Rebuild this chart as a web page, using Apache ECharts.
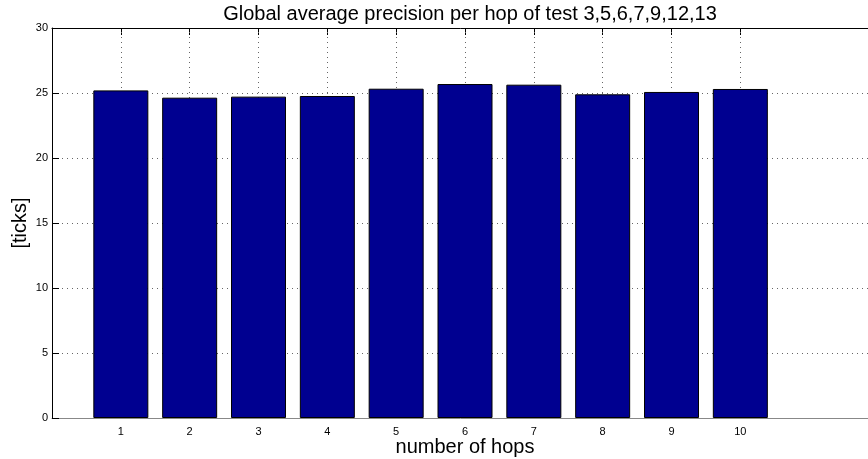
<!DOCTYPE html>
<html>
<head>
<meta charset="utf-8">
<script src="https://cdn.jsdelivr.net/npm/echarts@6/dist/echarts.min.js"></script>
<style>html,body{margin:0;padding:0;background:#fff;}#c{width:868px;height:459px;}</style>
</head>
<body>
<div id="c"></div>
<script>
const hops = [1, 2, 3, 4, 5, 6, 7, 8, 9, 10];
const precision = [25.2, 24.64, 24.72, 24.77, 25.33, 25.69, 25.64, 24.9, 25.08, 25.31];
const xTicks = [1, 2, 3, 4, 5, 6, 7, 8, 9, 10];
const yTicks = [0, 5, 10, 15, 20, 25, 30];
const titleText = 'Global average precision per hop of test 3,5,6,7,9,12,13';
const xName = 'number of hops';
const yName = '[ticks]';

const font = 'Liberation Sans, Arial, Helvetica, sans-serif';
const chart = echarts.init(document.getElementById('c'), null, {renderer: 'canvas'});
chart.setOption({
  animation: false,
  backgroundColor: '#fff',
  title: {
    text: titleText, left: 465, top: -1, textAlign: 'center',
    textStyle: {fontFamily: font, fontSize: 20, fontWeight: 'normal', color: '#000'}
  },
  grid: {left: 52, top: 28, width: 826, height: 390, containLabel: false, outerBoundsMode: 'none'},
  xAxis: [{
    type: 'value', min: 0, max: 12, interval: 1, position: 'bottom',
    name: xName, nameLocation: 'middle', nameGap: 19, nameMoveOverlap: false,
    nameTextStyle: {fontFamily: font, fontSize: 20, color: '#000'},
    axisLine: {show: true, lineStyle: {color: '#888', width: 1}},
    axisTick: {show: false},
    axisLabel: {
      fontFamily: font, fontSize: 11, color: '#000', margin: 8,
      formatter: v => xTicks.indexOf(v) >= 0 ? String(v) : ''
    },
    splitLine: {show: false}
  }, {
    type: 'value', min: 0, max: 12, interval: 1, position: 'top',
    axisLine: {show: true, onZero: false, lineStyle: {color: '#000', width: 1}},
    axisTick: {show: true, inside: true, length: 7, customValues: xTicks, lineStyle: {color: '#000'}},
    axisLabel: {show: false},
    splitLine: {show: false}
  }],
  yAxis: {
    type: 'value', min: 0, max: 30, interval: 5,
    name: yName, nameLocation: 'middle', nameGap: 22, nameRotate: 90, nameMoveOverlap: false,
    nameTextStyle: {fontFamily: font, fontSize: 20, color: '#000'},
    axisLine: {show: true, lineStyle: {color: '#000', width: 1}},
    axisTick: {show: true, inside: true, length: 7, lineStyle: {color: '#000'}},
    axisLabel: {fontFamily: font, fontSize: 11, color: '#000', margin: 4,
      formatter: v => yTicks.indexOf(v) >= 0 ? String(v) : ''},
    splitLine: {show: true, lineStyle: {color: '#666', type: [1, 4], width: 1}}
  },
  series: [{
    type: 'bar',
    xAxisIndex: 0,
    data: hops.map((h, i) => [h, precision[i]]),
    barWidth: 55,
    itemStyle: {color: '#000090', borderColor: '#000', borderWidth: 1},
    z: 2,
    markLine: {
      silent: true, symbol: 'none', z: 1,
      label: {show: false},
      lineStyle: {color: '#666', type: [1, 4], width: 1},
      data: xTicks.map(v => ({xAxis: v}))
    }
  }]
});
</script>
</body>
</html>
